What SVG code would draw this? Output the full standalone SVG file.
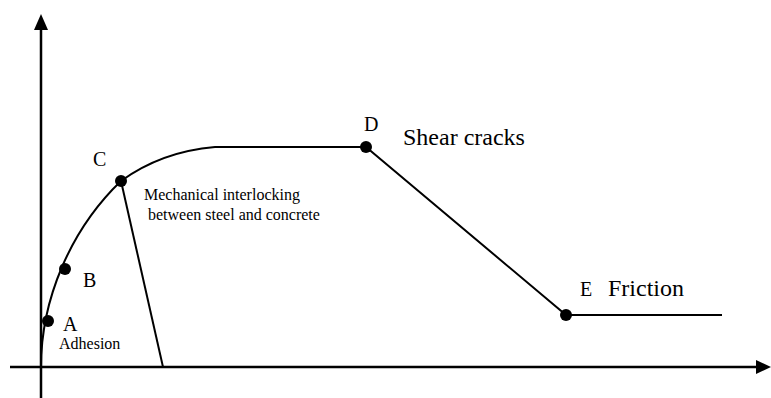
<svg xmlns="http://www.w3.org/2000/svg" width="771" height="398" viewBox="0 0 771 398">
<style>
.ax{stroke:#000;stroke-width:2.5;fill:none}
.ln{stroke:#000;stroke-width:2;fill:none}
.dot{fill:#000}
.t{font-family:"Liberation Serif",serif;fill:#000}
.s{font-size:16px}
.m{font-size:20px}
.l{font-size:24px}
</style>
<rect width="771" height="398" fill="#fff"/>
<g id="connectors">
<line class="ax" x1="41" y1="398" x2="41" y2="28"/>
<polygon points="41,14 34,30 48,30" fill="#000"/>
<line class="ax" x1="10" y1="367" x2="758" y2="367"/>
<polygon points="771,367 756,360 756,374" fill="#000"/>
<path class="ln" d="M41,367 C41,300 70,230 121,181 C150,160 180,150 215,147 L366,147 L566,315 L722,315"/>
<line class="ln" x1="121" y1="181" x2="163" y2="367"/>
</g>
<g id="A"><circle class="dot" cx="48" cy="321" r="6"/><text class="t m" x="63" y="331">A</text><text class="t s" x="59" y="349">Adhesion</text></g>
<g id="B"><circle class="dot" cx="65" cy="269" r="6"/><text class="t m" x="83" y="287">B</text></g>
<g id="C"><circle class="dot" cx="121" cy="181" r="6"/><text class="t m" x="93" y="166">C</text><text class="t s" x="144" y="200">Mechanical interlocking</text><text class="t s" x="148" y="220">between steel and concrete</text></g>
<g id="D"><circle class="dot" cx="366" cy="147" r="6"/><text class="t m" x="364" y="131">D</text><text class="t l" x="403" y="145">Shear cracks</text></g>
<g id="E"><circle class="dot" cx="566" cy="315" r="6"/><text class="t m" x="580" y="296">E</text><text class="t l" x="608" y="296">Friction</text></g>
</svg>
